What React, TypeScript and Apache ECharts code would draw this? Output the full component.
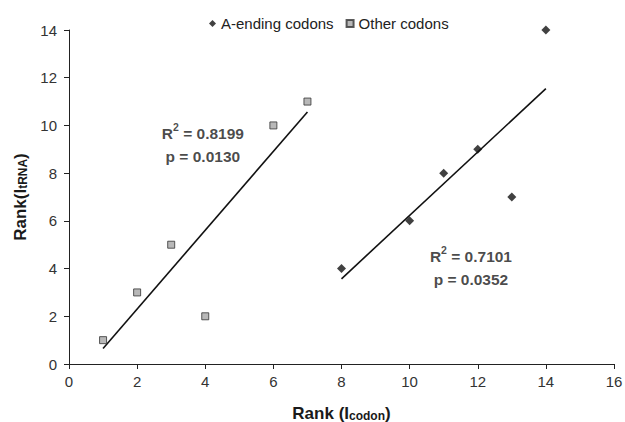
import React, { useEffect, useRef } from "react";
import * as echarts from "echarts";

const aEndingX = [8, 10, 11, 12, 13, 14];
const aEndingY = [4, 6, 8, 9, 7, 14];
const otherX = [1, 2, 3, 4, 6, 7];
const otherY = [1, 3, 5, 2, 10, 11];
const xTicks = [0, 16, 2];
const yTicks = [0, 14, 2];
const annotations = [
  { at: [3.93, 9.2], r2: "0.8199", p: "0.0130" },
  { at: [11.8, 4.03], r2: "0.7101", p: "0.0352" },
];

function fit(xs: number[], ys: number[]) {
  const n = xs.length;
  const mx = xs.reduce((a, b) => a + b, 0) / n;
  const my = ys.reduce((a, b) => a + b, 0) / n;
  let sxy = 0, sxx = 0;
  for (let i = 0; i < n; i++) {
    sxy += (xs[i] - mx) * (ys[i] - my);
    sxx += (xs[i] - mx) ** 2;
  }
  const b = sxy / sxx;
  const a = my - b * mx;
  const x0 = Math.min(...xs), x1 = Math.max(...xs);
  return [[x0, a + b * x0], [x1, a + b * x1]];
}

const FONT = "Liberation Sans, Arial, sans-serif";

export default function App() {
  const ref = useRef<HTMLDivElement>(null);
  useEffect(() => {
    const chart = echarts.init(ref.current!, null, { renderer: "svg" });
    const labelRich = {
      b: { fontSize: 15.5, fontWeight: "bold", color: "#1a1a1a", fontFamily: FONT, lineHeight: 23 },
      sup: { fontSize: 10.5, fontWeight: "bold", color: "#1a1a1a", fontFamily: FONT, verticalAlign: "top", padding: [0, 0, 8, 0] },
    };
    const titleRich = {
      b: { fontSize: 17, fontWeight: "bold", color: "#1a1a1a", fontFamily: FONT, verticalAlign: "bottom", lineHeight: 20 },
      s: { fontSize: 12, fontWeight: "bold", color: "#1a1a1a", fontFamily: FONT, verticalAlign: "bottom", lineHeight: 14 },
    };
    chart.setOption({
      animation: false,
      textStyle: { fontFamily: FONT },
      grid: { left: 69, right: 11, top: 30, bottom: 58, containLabel: false, outerBoundsMode: "none" },
      legend: {
        top: 11,
        left: 204,
        itemGap: 12,
        itemWidth: 7,
        itemHeight: 7,
        textStyle: { fontSize: 15, color: "#222", fontFamily: FONT },
        data: ["A-ending codons", "Other codons"],
      },
      xAxis: {
        type: "value",
        min: xTicks[0],
        max: xTicks[1],
        interval: xTicks[2],
        splitLine: { show: false },
        axisLine: { lineStyle: { color: "#222", width: 1 } },
        axisTick: { show: true, length: 5, lineStyle: { color: "#222" } },
        axisLabel: { fontSize: 15, color: "#333", margin: 10, fontFamily: FONT },
        name: "{b|Rank (I}{s|codon}{b|)}",
        nameLocation: "middle",
        nameGap: 38,
        nameTextStyle: { rich: titleRich },
      },
      yAxis: {
        type: "value",
        min: yTicks[0],
        max: yTicks[1],
        interval: yTicks[2],
        splitLine: { show: false },
        axisLine: { show: true, lineStyle: { color: "#222", width: 1 } },
        axisTick: { show: true, length: 5, lineStyle: { color: "#222" } },
        axisLabel: { fontSize: 15, color: "#333", margin: 12, fontFamily: FONT },
        name: "{b|Rank(I}{s|tRNA}{b|)}",
        nameLocation: "middle",
        nameRotate: 90,
        nameGap: 36,
        nameTextStyle: { rich: titleRich },
      },
      series: [
        {
          name: "A-ending codons",
          type: "scatter",
          symbol: "diamond",
          symbolSize: 9,
          itemStyle: { color: "#111" },
          data: aEndingX.map((x, i) => [x, aEndingY[i]]),
          z: 3,
        },
        {
          name: "Other codons",
          type: "scatter",
          symbol: "rect",
          symbolSize: 7,
          itemStyle: { color: "#a6a6a6", borderColor: "#333", borderWidth: 1 },
          data: otherX.map((x, i) => [x, otherY[i]]),
          z: 3,
        },
        {
          name: "fitA",
          type: "line",
          symbol: "none",
          lineStyle: { color: "#111", width: 1.6 },
          data: fit(aEndingX, aEndingY),
          silent: true,
          z: 2,
        },
        {
          name: "fitO",
          type: "line",
          symbol: "none",
          lineStyle: { color: "#111", width: 1.6 },
          data: fit(otherX, otherY),
          silent: true,
          z: 2,
        },
        {
          name: "notes",
          type: "scatter",
          symbolSize: 0,
          silent: true,
          data: annotations.map((a) => ({
            value: a.at,
            label: {
              show: true,
              position: "inside",
              align: "center",
              formatter: `{b|R}{sup|2}{b| = ${a.r2}}\n{b|p = ${a.p}}`,
              rich: labelRich,
            },
          })),
        },
      ],
    });
    return () => chart.dispose();
  }, []);
  return (
    <div
      ref={ref}
      style={{ position: "absolute", left: 0, top: 0, width: 625, height: 422, background: "#fff" }}
    />
  );
}
